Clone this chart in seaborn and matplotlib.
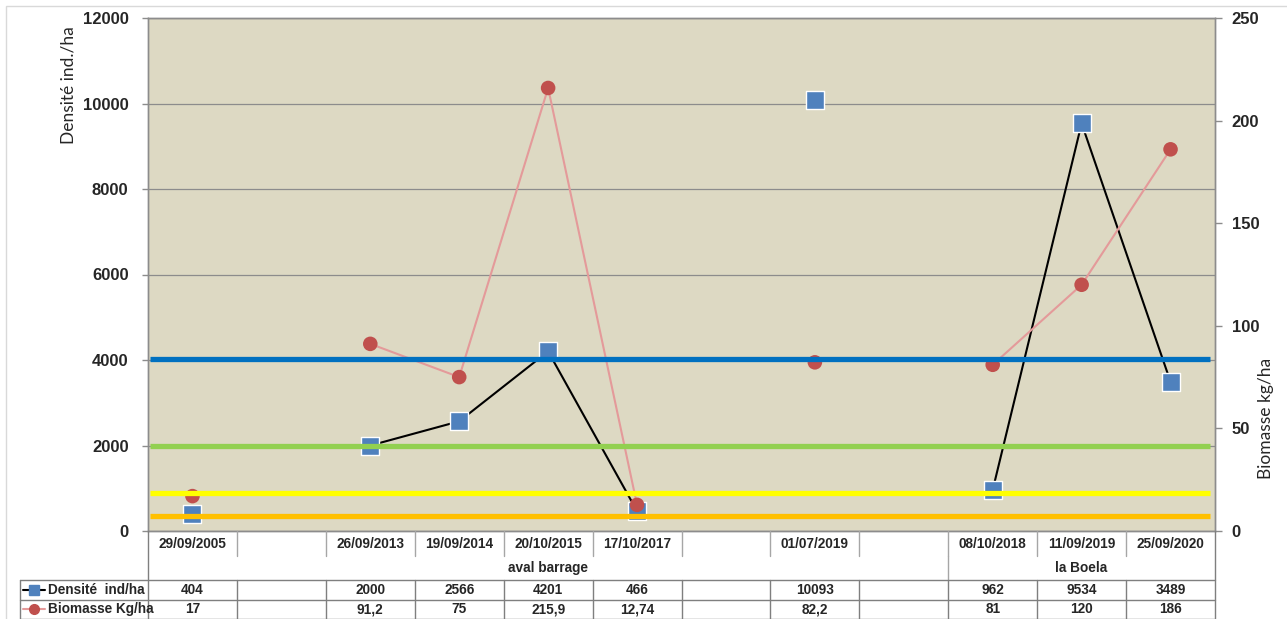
import numpy as np
import pandas as pd
import matplotlib
matplotlib.use("Agg")
import matplotlib.pyplot as plt
import matplotlib.transforms as mtrans
from matplotlib.lines import Line2D
from matplotlib.patches import Rectangle
import seaborn as sns

# ---------------- data ----------------
dates = ["29/09/2005", "", "26/09/2013", "19/09/2014", "20/10/2015", "17/10/2017",
         "", "01/07/2019", "", "08/10/2018", "11/09/2019", "25/09/2020"]
densite = [404, np.nan, 2000, 2566, 4201, 466, np.nan, 10093, np.nan, 962, 9534, 3489]
biomasse = [17, np.nan, 91.2, 75, 215.9, 12.74, np.nan, 82.2, np.nan, 81, 120, 186]
groups = ["aval barrage", "la Boela"]
group_first = [0, 9]
group_last = [8, 11]
ref_levels = [4020, 1990, 900, 350]
ref_colors = ["#0070C0", "#92D050", "#FFFF00", "#FFC000"]
left_ticks = [0, 2000, 4000, 6000, 8000, 10000, 12000]
right_ticks = [0, 50, 100, 150, 200, 250]
series_names = ["Densité  ind/ha", "Biomasse Kg/ha"]

# ---------------- style ----------------
sns.set_style("white")
plt.rcParams["font.family"] = ["Lato", "DejaVu Sans"]
BOLD = ["Liberation Sans", "DejaVu Sans"]

W, H = 1287, 619
fig = plt.figure(figsize=(W / 100, H / 100), dpi=100)
fig.patch.set_facecolor("white")
fig.patches.append(Rectangle((6 / W, -0.02), 1.1, 1 - 6 / H + 0.02, transform=fig.transFigure,
                             fill=False, edgecolor="#d9d9d9", linewidth=1))

PL, PR, PT, PB = 148, 1215, 18, 531
ax = fig.add_axes([PL / W, 1 - PB / H, (PR - PL) / W, (PB - PT) / H])
ax.set_facecolor("#DDD9C3")
n = len(dates)

ax2 = ax.twinx()
ax2.patch.set_visible(False)

df = pd.DataFrame({"pos": np.arange(n), "dens": densite, "bio": biomasse})
df["seg_d"] = df["dens"].isna().cumsum()
df["seg_b"] = df["bio"].isna().cumsum()
dd = df.dropna(subset=["dens"])
db = df.dropna(subset=["bio"])

sns.lineplot(data=dd, x="pos", y="dens", units="seg_d", estimator=None, color="black",
             linewidth=1.5, ax=ax, legend=False, zorder=3)
sns.scatterplot(data=dd, x="pos", y="dens", marker="s", s=150, color="#4F81BD",
                edgecolor="white", linewidth=1, ax=ax, legend=False, zorder=4)
sns.lineplot(data=db, x="pos", y="bio", units="seg_b", estimator=None, color="#E49A9A",
             linewidth=1.5, ax=ax2, legend=False, zorder=3)
sns.scatterplot(data=db, x="pos", y="bio", marker="o", s=110, color="#C0504D",
                edgecolor="none", ax=ax2, legend=False, zorder=4)

for a in (ax, ax2):
    a.set_xlabel("")
    a.set_ylabel("")
ax.set_xlim(-0.5, n - 0.5)
ax.set_ylim(0, 12000)
ax.set_yticks(left_ticks)
ax.set_xticks([])
ax2.set_ylim(0, 250)
ax2.set_yticks(right_ticks)
ax.grid(axis="y", color="#8c8c8c", linewidth=0.9)
ax.set_axisbelow(True)
ax2.grid(False)
for a in (ax, ax2):
    for s in a.spines.values():
        s.set_color("#8c8c8c")
        s.set_linewidth(1)
ax.tick_params(axis="y", direction="out", length=4, width=1, color="#8c8c8c",
               pad=10, labelsize=12)
ax2.tick_params(axis="y", direction="out", length=5, width=1, color="#8c8c8c",
                pad=7, labelsize=12)
for t in ax.get_yticklabels() + ax2.get_yticklabels():
    t.set_fontweight("bold")
    t.set_family(BOLD)

# reference levels (drawn on top)
btr = mtrans.blended_transform_factory(ax2.transAxes, ax.transData)
for lvl, col in zip(ref_levels, ref_colors):
    ax2.plot([0.002, 0.995], [lvl, lvl], transform=btr, color=col, linewidth=3.8,
             solid_capstyle="butt", zorder=6)

fig.text(68 / W, 1 - 85 / H, "Densité ind./ha", rotation=90, ha="center", va="center",
         fontsize=12.5)
fig.text(1266 / W, 1 - 418 / H, "Biomasse kg/ha", rotation=90, ha="center", va="center",
         fontsize=12.5)

# ---------------- data table ----------------
tab = fig.add_axes([PL / W, 0, (PR - PL) / W, (H - PB) / H])
tab.set_xlim(-0.5, n - 0.5)
tab.set_ylim(H - PB, 0)
tab.axis("off")
colw = (PR - PL) / n
xl = -0.5 - (PL - 20) / colw
lc = "#7f7f7f"
R0, R1, R2, R3, R4 = 0, 25, 49, 69, 87.6

def vline(x, y0, y1, c=lc):
    tab.add_line(Line2D([x, x], [y0, y1], color=c, linewidth=1, clip_on=False))

def hline(x0, x1, y, c=lc):
    tab.add_line(Line2D([x0, x1], [y, y], color=c, linewidth=1, clip_on=False))

for i in range(1, n):
    vline(i - 0.5, R0, R1, "#a6a6a6")
    vline(i - 0.5, R2, R4)
vline(-0.5, R0, R4)
vline(n - 0.5, R0, R4)
vline(xl, R2, R4)
for gl in group_last[:-1]:
    vline(gl + 0.5, R1, R2, "#a6a6a6")
hline(xl, n - 0.5, R2)
hline(xl, n - 0.5, R3)
hline(xl, n - 0.5, R4)

fs = 9.8
tk = dict(ha="center", va="center", fontsize=fs, fontweight="bold", family=BOLD)
for i, d in enumerate(dates):
    tab.text(i, (R0 + R1) / 2, d, **tk)
for g, a, b in zip(groups, group_first, group_last):
    tab.text((a + b) / 2, (R1 + R2) / 2, g, **tk)

def fmt(v):
    return "" if np.isnan(v) else f"{v:g}".replace(".", ",")

for i in range(n):
    tab.text(i, (R2 + R3) / 2, fmt(densite[i]), **tk)
    tab.text(i, (R3 + R4) / 2, fmt(biomasse[i]), **tk)

def px2x(px):
    return -0.5 + (px - PL) / colw

for (row_y, lcol, mk, mc, name) in [((R2 + R3) / 2, "black", "s", "#4F81BD", series_names[0]),
                                    ((R3 + R4) / 2, "#E49A9A", "o", "#C0504D", series_names[1])]:
    tab.add_line(Line2D([px2x(23), px2x(45)], [row_y, row_y], color=lcol, linewidth=1.5,
                        clip_on=False))
    tab.add_line(Line2D([px2x(34)], [row_y], marker=mk, markersize=6.5 if mk == "s" else 7,
                        color=mc, markeredgecolor=mc, linestyle="none", clip_on=False))
    tab.text(px2x(48), row_y, name, ha="left", va="center", fontsize=fs, fontweight="bold",
             family=BOLD)

fig.savefig("out.png", dpi=100)
